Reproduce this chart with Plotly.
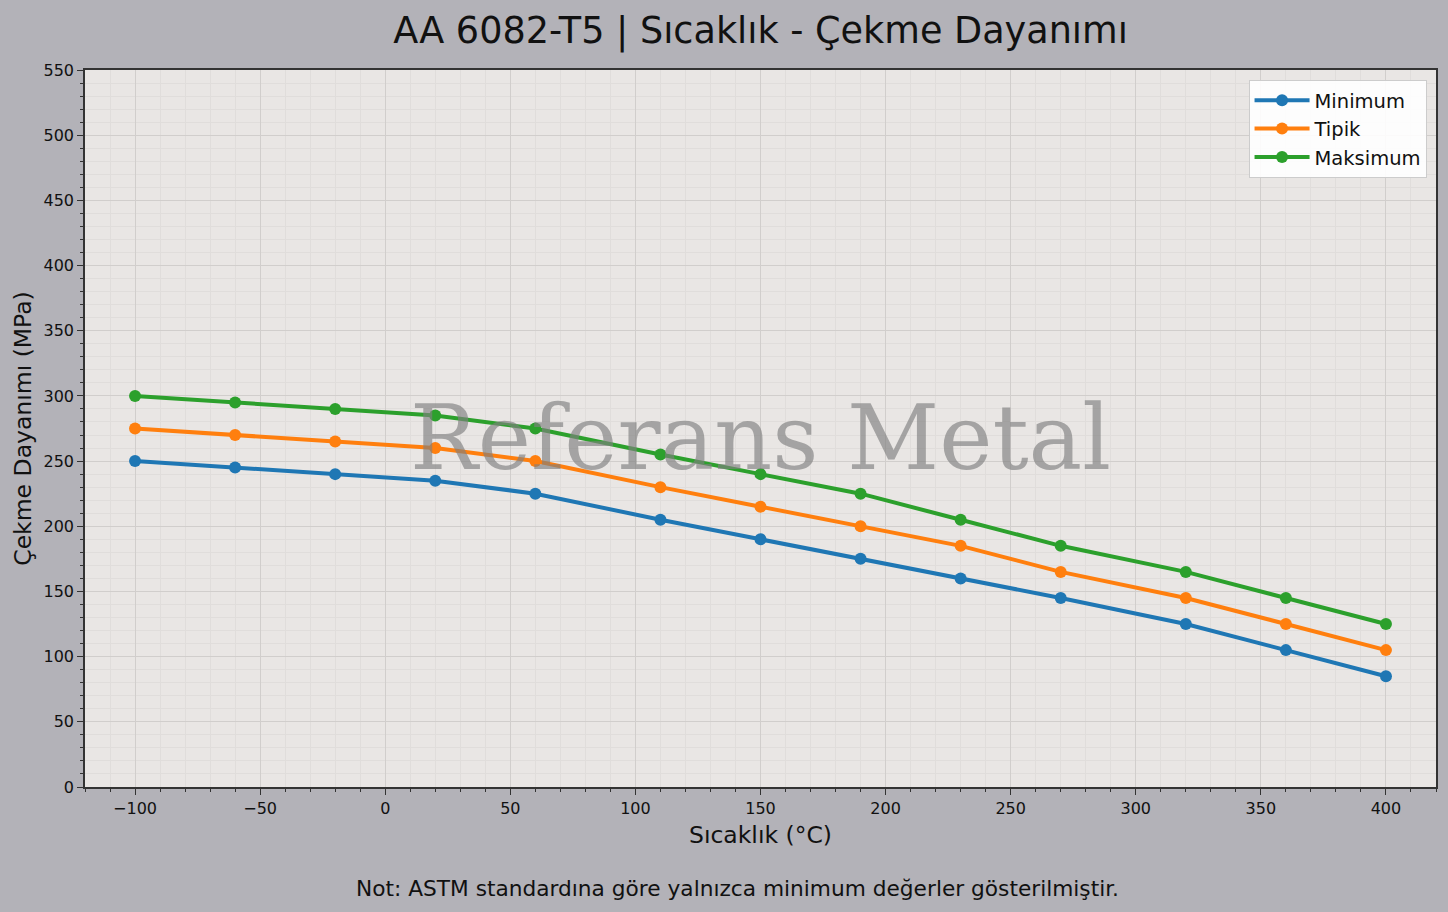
""" Temperature vs tensile strength chart for AA 6082-T5.

"""
import plotly.graph_objects as go

# Data
sicaklik = [-100, -60, -20, 20, 60, 110, 150, 190, 230, 270, 320, 360, 400]
minimum = [250, 245, 240, 235, 225, 205, 190, 175, 160, 145, 125, 105, 85]
tipik = [275, 270, 265, 260, 250, 230, 215, 200, 185, 165, 145, 125, 105]
maksimum = [300, 295, 290, 285, 275, 255, 240, 225, 205, 185, 165, 145, 125]

series = [
    ('Minimum', minimum, '#1f77b4'),
    ('Tipik', tipik, '#ff7f0e'),
    ('Maksimum', maksimum, '#2ca02c'),
]

fig = go.Figure()
for name, values, color in series:
    fig.add_trace(go.Scatter(
        x=sicaklik, y=values, name=name, mode='lines+markers',
        line=dict(color=color, width=4), marker=dict(color=color, size=12)))

# Watermark
fig.add_annotation(
    text='Referans Metal', xref='x domain', yref='y domain', x=0.5, y=0.487,
    showarrow=False, font=dict(family='DejaVu Serif', size=90, color='rgba(128,128,128,0.65)'))

# Footnote
fig.add_annotation(
    text='Not: ASTM standardına göre yalnızca minimum değerler gösterilmiştir.',
    xref='paper', yref='paper', x=0.483, y=-0.142, xanchor='center', yanchor='middle',
    showarrow=False, font=dict(size=21.7, color='#111111'))

# Styling
axis_style = dict(
    showline=True, linecolor='#333333', linewidth=1.5, mirror=True,
    ticks='outside', ticklen=6, tickwidth=1.2, tickcolor='#333333',
    showgrid=True, gridcolor='#d1cecc', gridwidth=1.3, zeroline=False,
    tickfont=dict(size=16, color='#111111'),
    minor=dict(ticks='outside', ticklen=3.5, tickcolor='#333333', showgrid=True,
               gridcolor='#e0dddb', gridwidth=0.8))
fig.update_xaxes(
    title_text='Sıcaklık (°C)', title_font=dict(size=23.5, color='#111111'), title_standoff=10,
    range=[-120, 420], dtick=50, tick0=0, minor_dtick=10, **axis_style)
fig.update_yaxes(
    title_text='Çekme Dayanımı (MPa)', title_font=dict(size=23.5, color='#111111'), title_standoff=5,
    range=[0, 550], dtick=50, minor_dtick=10, **axis_style)
fig.update_layout(
    width=1448, height=912, autosize=False,
    title=dict(text='AA 6082-T5 | Sıcaklık - Çekme Dayanımı', xref='paper', x=0.5, xanchor='center',
               y=0.967, yanchor='middle', font=dict(size=36.6, color='#111111')),
    font=dict(family='DejaVu Sans', color='#111111'),
    paper_bgcolor='#b3b2b8', plot_bgcolor='#e9e6e4',
    margin=dict(t=70, b=125, l=85, r=10),
    legend=dict(
        x=0.993, y=0.986, xanchor='right', yanchor='top', bgcolor='rgba(255,255,255,0.9)',
        bordercolor='#cccccc', borderwidth=1, font=dict(size=19.5, color='#111111'),
        itemwidth=55, tracegroupgap=2))

fig.write_html('out.html', config={'displayModeBar': False},
               post_script="document.body.style.margin='0';")
